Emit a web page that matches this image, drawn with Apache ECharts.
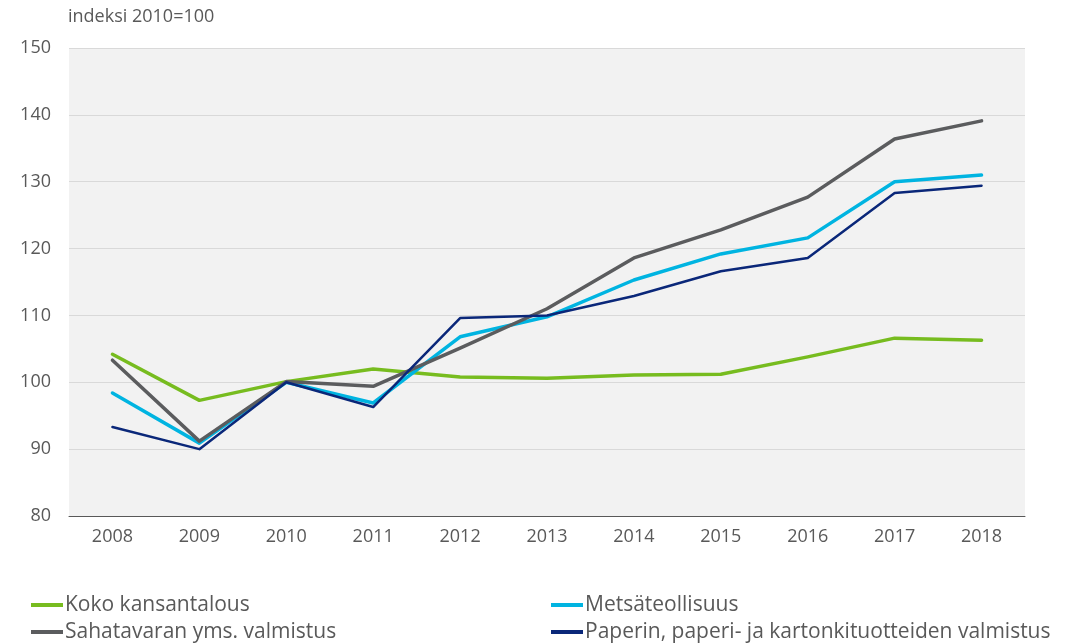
<!DOCTYPE html>
<html>
<head>
<meta charset="utf-8">
<script src="https://cdn.jsdelivr.net/npm/echarts@6/dist/echarts.min.js"></script>
<style>
  html, body { margin: 0; padding: 0; background: #fff; }
  #chart { width: 1066px; height: 644px; }
</style>
</head>
<body>
<div id="chart"></div>
<script>
// years on the x axis
const years = ['2008', '2009', '2010', '2011', '2012', '2013', '2014', '2015', '2016', '2017', '2018'];

// index values, 2010 = 100
const kokoKansantalous = [104.2, 97.3, 100.1, 102.0, 100.8, 100.6, 101.1, 101.2, 103.8, 106.6, 106.3];
const metsateollisuus = [98.4, 90.9, 100.0, 96.9, 106.8, 109.8, 115.3, 119.2, 121.6, 130.0, 131.0];
const sahatavara = [103.3, 91.2, 100.1, 99.4, 105.1, 111.0, 118.6, 122.8, 127.7, 136.4, 139.1];
const paperi = [93.3, 90.0, 100.0, 96.3, 109.6, 110.0, 112.9, 116.6, 118.6, 128.3, 129.4];

const names = [
  'Koko kansantalous',
  'Metsäteollisuus',
  'Sahatavaran yms. valmistus',
  'Paperin, paperi- ja kartonkituotteiden valmistus'
];

const chart = echarts.init(document.getElementById('chart'));

const textColor = '#595959';

// one legend per entry so the two columns sit where the original has them
function legendItem(name, left, top) {
  return {
    data: [name],
    left: left,
    top: top,
    padding: 0,
    itemWidth: 32,
    itemHeight: 4,
    icon: 'rect',
    textStyle: { fontSize: 21, lineHeight: 22, color: textColor, padding: [0, 0, 0, -3] }
  };
}

function line(name, data, color, width) {
  return {
    name: name,
    type: 'line',
    data: data,
    symbol: 'none',
    lineStyle: { color: color, width: width, cap: 'round', join: 'round' },
    itemStyle: { color: color }
  };
}

const options = {
  backgroundColor: '#fff',
  animation: false,
  textStyle: { fontFamily: '"Open Sans", "Liberation Sans", sans-serif' },
  title: {
    text: 'indeksi 2010=100',
    left: 68,
    top: 8,
    padding: 0,
    textStyle: { fontSize: 18, fontWeight: 'normal', color: textColor }
  },
  grid: {
    left: 69,
    right: 41,
    top: 48,
    bottom: 128,
    show: true,
    backgroundColor: '#f2f2f2',
    borderWidth: 0
  },
  legend: [
    legendItem(names[0], 31, 594),
    legendItem(names[2], 31, 621),
    legendItem(names[1], 551, 594),
    legendItem(names[3], 551, 621)
  ],
  xAxis: {
    type: 'category',
    data: years,
    boundaryGap: true,
    axisLine: { lineStyle: { color: '#595959', width: 1 } },
    axisTick: { show: false },
    axisLabel: { color: textColor, fontSize: 18, margin: 12 }
  },
  yAxis: {
    type: 'value',
    min: 80,
    max: 150,
    interval: 10,
    axisLine: { show: false },
    axisTick: { show: false },
    axisLabel: { color: textColor, fontSize: 18, margin: 18 },
    splitLine: { lineStyle: { color: '#d9d9d9', width: 1 } }
  },
  series: [
    line(names[0], kokoKansantalous, '#77bc1f', 3.5),
    line(names[1], metsateollisuus, '#00b4e1', 3.5),
    line(names[2], sahatavara, '#5b5c5e', 3.5),
    line(names[3], paperi, '#0a2779', 2.5)
  ]
};

chart.setOption(options);
</script>
</body>
</html>
